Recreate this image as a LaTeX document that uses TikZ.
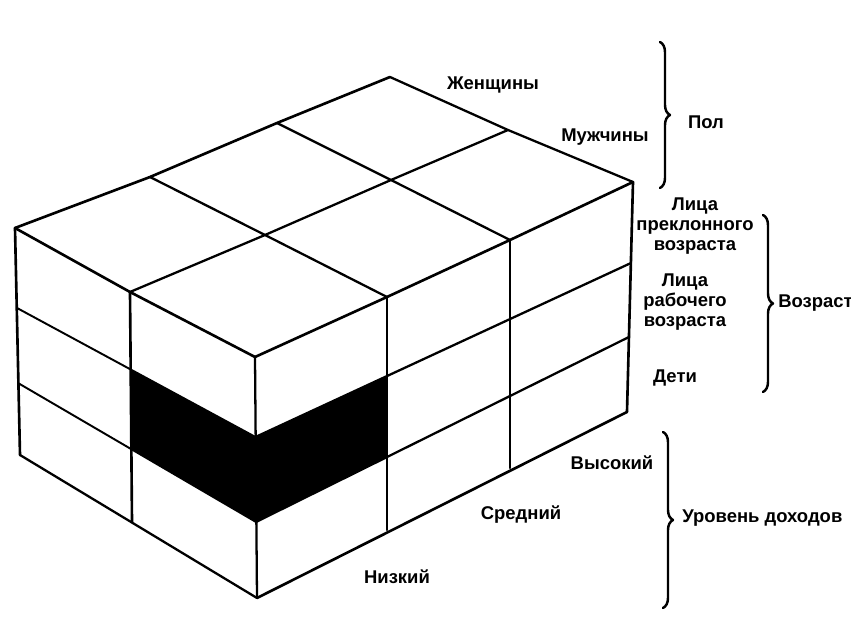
\documentclass[tikz,border=0pt]{standalone}
\usepackage{fontspec}
\setmainfont{Liberation Sans}
\usetikzlibrary{decorations.pathreplacing}

\begin{document}
\begin{tikzpicture}[line join=round, line cap=round,
  lbl/.style={font=\fontsize{10.5}{11.5}\selectfont\bfseries, inner sep=0pt},
  brc/.style={line width=1.4pt, decorate, decoration={brace, amplitude=0.2cm}}]
\useasboundingbox (0,0) rectangle (17.02,12.70);
\fill[black] (2.610,5.312) -- (5.110,3.960) -- (7.740,5.179) -- (7.740,3.560) -- (5.120,2.260) -- (2.620,3.720) -- cycle;
\draw[line width=1.5pt] (0.300,8.140) -- (3.000,9.160) -- (5.540,10.240) -- (7.800,11.160);
\draw[line width=1.3pt] (2.600,6.860) -- (5.300,8.000) -- (7.820,9.100) -- (10.160,10.100);
\draw[line width=1.5pt] (5.100,5.560) -- (7.740,6.760) -- (10.200,7.900) -- (12.660,9.060);
\draw[line width=1.5pt] (0.300,8.140) -- (2.600,6.860) -- (5.100,5.560);
\draw[line width=1.3pt] (3.000,9.160) -- (5.300,8.000) -- (7.740,6.760);
\draw[line width=1.3pt] (5.540,10.240) -- (7.820,9.100) -- (10.200,7.900);
\draw[line width=1.3pt] (7.800,11.160) -- (10.160,10.100) -- (12.660,9.060);
\draw[line width=1.5pt] (0.300,8.140) -- (0.400,3.600);
\draw[line width=1.5pt] (2.600,6.860) -- (2.640,2.260);
\draw[line width=1.3pt] (5.100,5.560) -- (5.140,0.740);
\draw[line width=1.5pt] (7.740,6.760) -- (7.740,2.100);
\draw[line width=1.5pt] (10.200,7.900) -- (10.200,3.340);
\draw[line width=1.5pt] (12.660,9.060) -- (12.540,4.460);
\draw[line width=1.1pt] (0.340,6.540) -- (5.110,3.960);
\draw[line width=1.1pt] (0.360,5.040) -- (5.120,2.260);
\draw[line width=1.3pt] (0.400,3.600) -- (5.140,0.740);
\draw[line width=1.3pt] (5.110,3.960) -- (12.620,7.440);
\draw[line width=1.3pt] (5.120,2.260) -- (12.580,5.960);
\draw[line width=1.5pt] (5.140,0.740) -- (12.540,4.460);
\draw[brc] (13.200,11.860) -- (13.200,8.940);
\draw[brc] (15.260,8.400) -- (15.260,4.860);
\draw[brc] (13.260,4.060) -- (13.260,0.540);
\node[lbl] (women) at (9.860,11.000) {Женщины};
\node[lbl] (men) at (12.100,9.960) {Мужчины};
\node[lbl] (sex) at (14.120,10.260) {Пол};
\node[lbl, align=center] (old) at (13.900,8.180) {Лица\\преклонного\\возраста};
\node[lbl, align=center] (work) at (13.700,6.660) {Лица\\рабочего\\возраста};
\node[lbl] (kids) at (13.500,5.140) {Дети};
\node[lbl, anchor=west] (age) at (15.560,6.640) {Возраст};
\node[lbl] (high) at (12.240,3.440) {Высокий};
\node[lbl] (mid) at (10.420,2.400) {Средний};
\node[lbl] (low) at (7.940,1.160) {Низкий};
\node[lbl, anchor=west] (income) at (13.640,2.340) {Уровень доходов};
\end{tikzpicture}
\end{document}
